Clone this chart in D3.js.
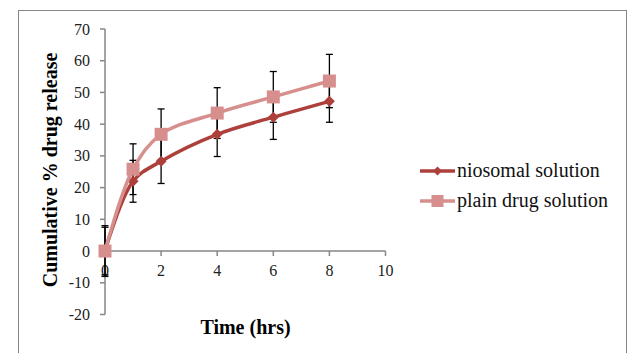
<!DOCTYPE html>
<html>
<head>
<meta charset="utf-8">
<script src="https://cdn.jsdelivr.net/npm/d3@7"></script>
<style>
  body { margin: 0; background: #fff; }
  svg { display: block; }
</style>
</head>
<body>
<script>
var timeHrs = [0, 1, 2, 4, 6, 8];
var niosomal = [0, 22, 28.3, 36.8, 42.2, 47.2];
var niosomalErr = [7.5, 6.6, 7, 7, 7, 6.6];
var plainDrug = [0, 25.8, 36.8, 43.5, 48.6, 53.6];
var plainErr = [8, 8, 8, 8, 8, 8.4];
var xTicks = [0, 2, 4, 6, 8, 10];
var yTicks = [-20, -10, 0, 10, 20, 30, 40, 50, 60, 70];

var width = 630, height = 353;
var axisColor = '#868686';
var font = '"Liberation Serif", "Times New Roman", serif';

var svg = d3.select('body').append('svg')
  .attr('width', width)
  .attr('height', height);

// outer chart border
svg.append('rect')
  .attr('x', 18.5).attr('y', 10.5)
  .attr('width', 608).attr('height', 360)
  .attr('fill', 'none')
  .attr('stroke', axisColor)
  .attr('stroke-width', 1);

var x = d3.scaleLinear().domain([0, 10]).range([105, 385.5]);
var y = d3.scaleLinear().domain([-20, 70]).range([314.5, 29]);

// y axis
var yAxis = svg.append('g').attr('transform', 'translate(' + x(0) + ',0)');
yAxis.append('line')
  .attr('x1', 0).attr('x2', 0)
  .attr('y1', y(70)).attr('y2', y(-20))
  .attr('stroke', axisColor).attr('stroke-width', 1.5);
yAxis.selectAll('line.tick')
  .data(yTicks)
  .enter().append('line')
  .attr('class', 'tick')
  .attr('x1', -5).attr('x2', 0)
  .attr('y1', function(d) { return y(d); })
  .attr('y2', function(d) { return y(d); })
  .attr('stroke', axisColor).attr('stroke-width', 1.5);
yAxis.selectAll('text')
  .data(yTicks)
  .enter().append('text')
  .attr('x', -15)
  .attr('y', function(d) { return y(d) + 5.5; })
  .attr('text-anchor', 'end')
  .attr('font-family', font)
  .attr('font-size', 16)
  .attr('fill', '#222')
  .text(function(d) { return d; });

// x axis along y = 0
var xAxis = svg.append('g').attr('transform', 'translate(0,' + y(0) + ')');
xAxis.append('line')
  .attr('x1', x(0)).attr('x2', x(10))
  .attr('y1', 0).attr('y2', 0)
  .attr('stroke', axisColor).attr('stroke-width', 1.5);
xAxis.selectAll('line.tick')
  .data(xTicks)
  .enter().append('line')
  .attr('class', 'tick')
  .attr('x1', function(d) { return x(d); })
  .attr('x2', function(d) { return x(d); })
  .attr('y1', 0).attr('y2', 5)
  .attr('stroke', axisColor).attr('stroke-width', 1.5);
xAxis.selectAll('text')
  .data(xTicks)
  .enter().append('text')
  .attr('x', function(d) { return x(d); })
  .attr('y', 25)
  .attr('text-anchor', 'middle')
  .attr('font-family', font)
  .attr('font-size', 16)
  .attr('fill', '#222')
  .text(function(d) { return d; });

// axis titles
svg.append('text')
  .attr('transform', 'translate(57,' + 170 + ') rotate(-90)')
  .attr('text-anchor', 'middle')
  .attr('font-family', font)
  .attr('font-size', 20)
  .attr('font-weight', 'bold')
  .text('Cumulative % drug release');

svg.append('text')
  .attr('x', 245.5).attr('y', 334)
  .attr('text-anchor', 'middle')
  .attr('font-family', font)
  .attr('font-size', 20)
  .attr('font-weight', 'bold')
  .text('Time (hrs)');

var series = [
  { name: 'niosomal solution', values: niosomal, err: niosomalErr, color: '#AE403C', marker: 'diamond' },
  { name: 'plain drug solution', values: plainDrug, err: plainErr, color: '#D68F8D', marker: 'square' }
];

function pts(s) {
  return timeHrs.map(function(t, i) { return { t: t, v: s.values[i], e: s.err[i] }; });
}

// error bars
series.forEach(function(s) {
  var g = svg.append('g');
  var p = pts(s);
  g.selectAll('line.bar').data(p).enter().append('line')
    .attr('x1', function(d) { return x(d.t); })
    .attr('x2', function(d) { return x(d.t); })
    .attr('y1', function(d) { return y(d.v - d.e); })
    .attr('y2', function(d) { return y(d.v + d.e); })
    .attr('stroke', '#000').attr('stroke-width', 1.3);
  [-1, 1].forEach(function(sign) {
    g.selectAll('line.cap' + sign).data(p).enter().append('line')
      .attr('x1', function(d) { return x(d.t) - 3.5; })
      .attr('x2', function(d) { return x(d.t) + 3.5; })
      .attr('y1', function(d) { return y(d.v + sign * d.e); })
      .attr('y2', function(d) { return y(d.v + sign * d.e); })
      .attr('stroke', '#000').attr('stroke-width', 1.3);
  });
});

var line = d3.line()
  .x(function(d) { return x(d.t); })
  .y(function(d) { return y(d.v); })
  .curve(d3.curveCatmullRom.alpha(0.5));

function drawMarker(g, type, cx, cy, color, size) {
  if (type === 'square') {
    g.append('rect')
      .attr('x', cx - size / 2).attr('y', cy - size / 2)
      .attr('width', size).attr('height', size)
      .attr('fill', color);
  } else {
    var h = size / 2;
    g.append('path')
      .attr('d', 'M' + cx + ',' + (cy - h) + 'L' + (cx + h) + ',' + cy + 'L' + cx + ',' + (cy + h) + 'L' + (cx - h) + ',' + cy + 'Z')
      .attr('fill', color);
  }
}

series.forEach(function(s) {
  var g = svg.append('g');
  g.append('path')
    .datum(pts(s))
    .attr('d', line)
    .attr('fill', 'none')
    .attr('stroke', s.color)
    .attr('stroke-width', 3.5);
  pts(s).forEach(function(d) {
    drawMarker(g, s.marker, x(d.t), y(d.v), s.color, s.marker === 'square' ? 13 : 11);
  });
});

// legend
var legend = svg.append('g');
series.forEach(function(s, i) {
  var ly = 171 + i * 30;
  legend.append('line')
    .attr('x1', 420).attr('x2', 455)
    .attr('y1', ly).attr('y2', ly)
    .attr('stroke', s.color).attr('stroke-width', 3.5);
  drawMarker(legend, s.marker, 437.5, ly, s.color, s.marker === 'square' ? 12 : 9);
  legend.append('text')
    .attr('x', 457).attr('y', ly + 6)
    .attr('font-family', font)
    .attr('font-size', 20)
    .attr('fill', '#111')
    .text(s.name);
});
</script>
</body>
</html>
